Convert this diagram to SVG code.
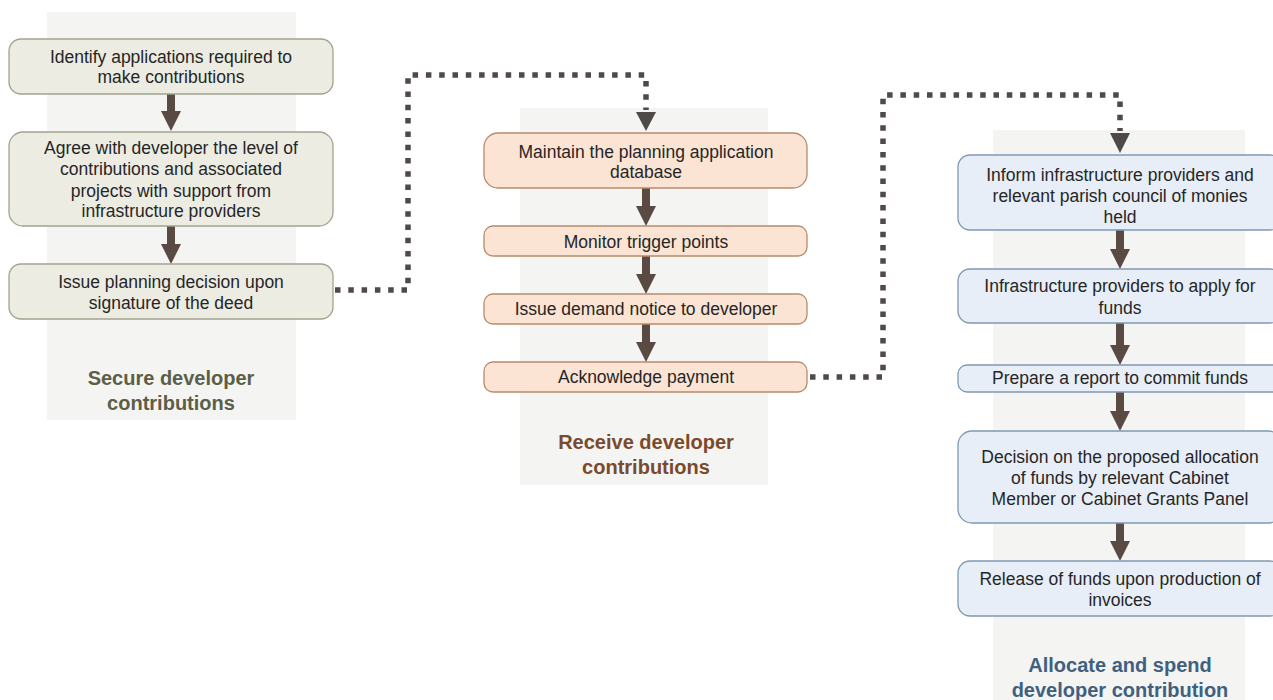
<svg xmlns="http://www.w3.org/2000/svg" width="1273" height="700" viewBox="0 0 1273 700">
<style>
.panel{fill:#f4f4f3;stroke:none}
.b1{fill:#ecece3;stroke:#a2a28e;stroke-width:1.3}
.b2{fill:#fbe4d4;stroke:#b68b6b;stroke-width:1.3}
.b3{fill:#e7eef7;stroke:#8099b3;stroke-width:1.3}
.t{font-family:"Liberation Sans",Arial,sans-serif;font-size:17.5px;fill:#262626;text-anchor:middle}
.h{font-family:"Liberation Sans",Arial,sans-serif;font-size:20px;font-weight:bold;text-anchor:middle}
.h1{fill:#5c5f48}
.h2{fill:#7a4a2c}
.h3{fill:#41607f}
.arr{fill:#594b43;stroke:none}
.dot{fill:none;stroke:#4f4947;stroke-width:5.5;stroke-dasharray:5.5 7.8}
.dhead{fill:#4f4947;stroke:none}
</style>
<rect width="1273" height="700" fill="#ffffff"/>
<g id="panels">
<rect class="panel" x="47" y="12" width="249" height="408"/>
<rect class="panel" x="520" y="108" width="248" height="377"/>
<rect class="panel" x="993" y="130" width="252" height="570"/>
</g>
<g id="connectors">
<path class="arr" d="M167,94 H175 V111 H181 L171,131 L161,111 H167 Z"/>
<path class="arr" d="M167,226 H175 V244 H181 L171,264 L161,244 H167 Z"/>
<path class="arr" d="M642,188 H650 V206 H656 L646,226 L636,206 H642 Z"/>
<path class="arr" d="M642,256 H650 V274 H656 L646,294 L636,274 H642 Z"/>
<path class="arr" d="M642,324 H650 V342 H656 L646,362 L636,342 H642 Z"/>
<path class="arr" d="M1116,230 H1124 V249 H1130 L1120,269 L1110,249 H1116 Z"/>
<path class="arr" d="M1116,323 H1124 V345 H1130 L1120,365 L1110,345 H1116 Z"/>
<path class="arr" d="M1116,392 H1124 V411 H1130 L1120,431 L1110,411 H1116 Z"/>
<path class="arr" d="M1116,523 H1124 V541 H1130 L1120,561 L1110,541 H1116 Z"/>
<path class="dot" d="M335,290 H408 V75 H646 V110"/>
<path class="dhead" d="M636,112 H656 L646,131 Z"/>
<path class="dot" d="M810,377 H883 V95 H1120 V131"/>
<path class="dhead" d="M1110,133 H1130 L1120,153 Z"/>
</g>
<g id="n1">
<rect class="b1" x="9" y="39" width="324" height="55" rx="12"/>
<text class="t" x="171" y="63">Identify applications required to</text>
<text class="t" x="171" y="83">make contributions</text>
</g>
<g id="n2">
<rect class="b1" x="9" y="132" width="324" height="94" rx="14"/>
<text class="t" x="171" y="154">Agree with developer the level of</text>
<text class="t" x="171" y="175">contributions and associated</text>
<text class="t" x="171" y="197">projects with support from</text>
<text class="t" x="171" y="217">infrastructure providers</text>
</g>
<g id="n3">
<rect class="b1" x="9" y="264" width="324" height="55" rx="12"/>
<text class="t" x="171" y="288">Issue planning decision upon</text>
<text class="t" x="171" y="309">signature of the deed</text>
</g>
<g id="title1">
<text class="h h1" x="171" y="385">Secure developer</text>
<text class="h h1" x="171" y="410">contributions</text>
</g>
<g id="n4">
<rect class="b2" x="484" y="133" width="323" height="55" rx="14"/>
<text class="t" x="646" y="158">Maintain the planning application</text>
<text class="t" x="646" y="178">database</text>
</g>
<g id="n5">
<rect class="b2" x="484" y="226" width="323" height="30" rx="9"/>
<text class="t" x="646" y="248">Monitor trigger points</text>
</g>
<g id="n6">
<rect class="b2" x="484" y="294" width="323" height="30" rx="9"/>
<text class="t" x="646" y="315">Issue demand notice to developer</text>
</g>
<g id="n7">
<rect class="b2" x="484" y="362" width="323" height="30" rx="9"/>
<text class="t" x="646" y="383">Acknowledge payment</text>
</g>
<g id="title2">
<text class="h h2" x="646" y="449">Receive developer</text>
<text class="h h2" x="646" y="474">contributions</text>
</g>
<g id="n8">
<rect class="b3" x="958" y="155" width="324" height="75" rx="12"/>
<text class="t" x="1120" y="181">Inform infrastructure providers and</text>
<text class="t" x="1120" y="202">relevant parish council of monies</text>
<text class="t" x="1120" y="223">held</text>
</g>
<g id="n9">
<rect class="b3" x="958" y="269" width="324" height="54" rx="12"/>
<text class="t" x="1120" y="292">Infrastructure providers to apply for</text>
<text class="t" x="1120" y="314">funds</text>
</g>
<g id="n10">
<rect class="b3" x="958" y="365" width="324" height="27" rx="9"/>
<text class="t" x="1120" y="384">Prepare a report to commit funds</text>
</g>
<g id="n11">
<rect class="b3" x="958" y="431" width="324" height="92" rx="14"/>
<text class="t" x="1120" y="463">Decision on the proposed allocation</text>
<text class="t" x="1120" y="484">of funds by relevant Cabinet</text>
<text class="t" x="1120" y="505">Member or Cabinet Grants Panel</text>
</g>
<g id="n12">
<rect class="b3" x="958" y="561" width="324" height="55" rx="12"/>
<text class="t" x="1120" y="585">Release of funds upon production of</text>
<text class="t" x="1120" y="606">invoices</text>
</g>
<g id="title3">
<text class="h h3" x="1120" y="672">Allocate and spend</text>
<text class="h h3" x="1120" y="697">developer contribution</text>
</g>
</svg>
